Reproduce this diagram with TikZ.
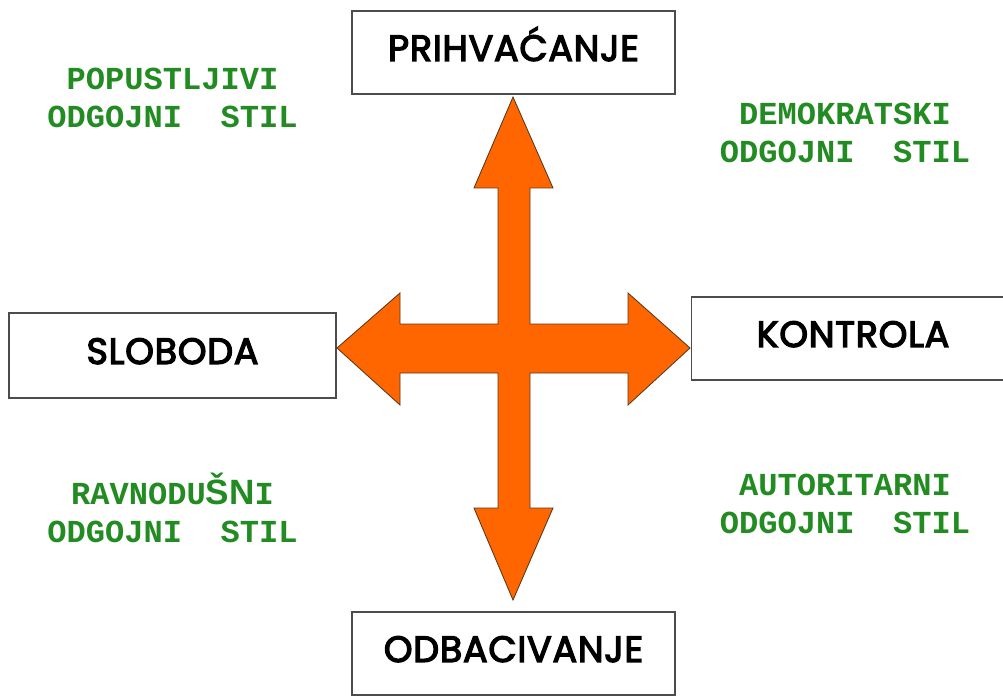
\documentclass[tikz,border=0pt]{standalone}
\usepackage{fontspec}
\setmainfont{Poppins}
\newfontfamily\okvirfont{Poppins}[FakeBold=3.5, LetterSpace=2]
\newfontfamily\monofont{Liberation Mono}
\newfontfamily\sansfont{Liberation Sans}
\definecolor{strelica}{RGB}{255,102,0}
\definecolor{zelena}{RGB}{34,139,34}
\tikzset{
  okvir/.style={draw=black!70, line width=1pt, fill=white, minimum width=8.08cm,
    minimum height=2.08cm, text height=18pt, text depth=6pt,
    font=\okvirfont\fontsize{26}{30}\selectfont},
  stil/.style={text=zelena, align=center, font=\monofont\bfseries\fontsize{22.8}{27}\selectfont}
}
\begin{document}
\begin{tikzpicture}[x=0.025cm, y=-0.025cm]
  \useasboundingbox (0,0) rectangle (1003,695);
  % boxes
  \node[okvir] (prih) at (513.5,52.5) {PRIHVAĆANJE};
  \node[okvir, minimum width=8.18cm, minimum height=2.13cm] (slob) at (172.5,355.5) {SLOBODA};
  \node[okvir] (kontr) at (853,338.5) {KONTROLA};
  \node[okvir] (odbac) at (513.5,653.5) {ODBACIVANJE};
  % arrow
  \draw[fill=strelica, draw=black!55!brown, line width=0.6pt]
    (513,97) -- (553,188) -- (530,188) -- (530,324) -- (628,324) -- (628,293)
    -- (690,348) -- (628,405) -- (628,373) -- (530,373) -- (530,508) -- (553,508)
    -- (513,600) -- (474,508) -- (498,508) -- (498,373) -- (400,373) -- (400,405)
    -- (337,348) -- (400,293) -- (400,324) -- (498,324) -- (498,188) -- (474,188) -- cycle;
  % styles
  \node[stil] (popust) at (172.5,98) {POPUSTLJIVI\\ODGOJNI\ \ STIL};
  \node[stil] (demok) at (845,132.5) {DEMOKRATSKI\\ODGOJNI\ \ STIL};
  \node[stil] (ravno) at (172.5,508) {RAVNODU{\sansfont\bfseries\fontsize{25}{27}\selectfont ŠN}I\\ODGOJNI\ \ STIL};
  \node[stil] (autor) at (845,504) {AUTORITARNI\\ODGOJNI\ \ STIL};
\end{tikzpicture}
\end{document}
